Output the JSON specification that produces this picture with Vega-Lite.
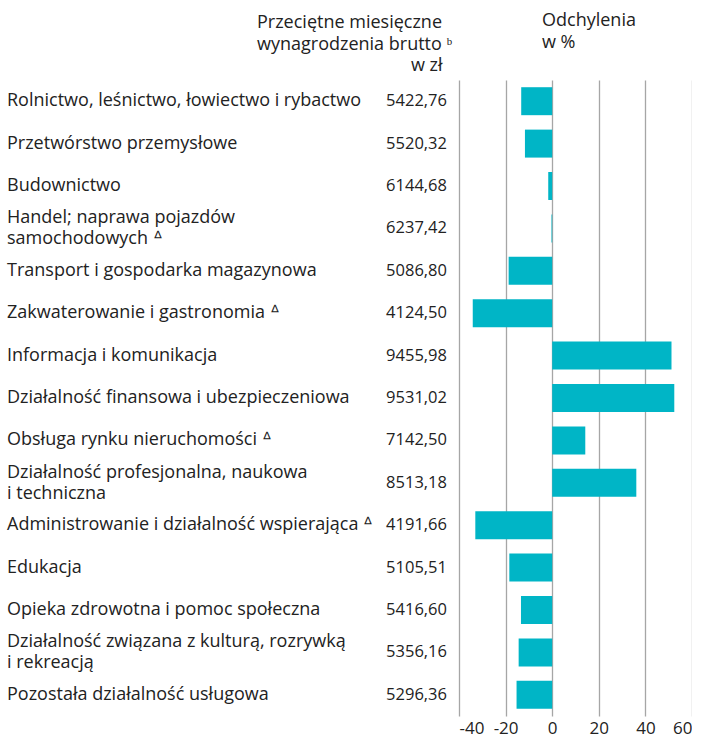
{
  "$schema": "https://vega.github.io/schema/vega-lite/v6.json",
  "padding": {"left": 7, "top": 12, "right": 0, "bottom": 0},
  "bounds": "flush",
  "spacing": 12,
  "config": {
    "font": "Open Sans",
    "view": {"stroke": null},
    "locale": {"number": {"decimal": ",", "thousands": " ", "grouping": [3], "currency": ["", " zł"], "minus": "-"}},
    "title": {"fontSize": 18, "fontWeight": "normal", "color": "#222222", "lineHeight": 22, "font": "Open Sans"}
  },
  "data": {
    "values": [
      {"kategoria": "Rolnictwo, leśnictwo, łowiectwo i rybactwo", "wynagrodzenie": 5422.76, "odchylenie": -13.3},
      {"kategoria": "Przetwórstwo przemysłowe", "wynagrodzenie": 5520.32, "odchylenie": -11.7},
      {"kategoria": "Budownictwo", "wynagrodzenie": 6144.68, "odchylenie": -1.7},
      {"kategoria": "Handel; naprawa pojazdów\nsamochodowych ᐞ", "wynagrodzenie": 6237.42, "odchylenie": -0.3},
      {"kategoria": "Transport i gospodarka magazynowa", "wynagrodzenie": 5086.80, "odchylenie": -18.7},
      {"kategoria": "Zakwaterowanie i gastronomia ᐞ", "wynagrodzenie": 4124.50, "odchylenie": -34.1},
      {"kategoria": "Informacja i komunikacja", "wynagrodzenie": 9455.98, "odchylenie": 51.2},
      {"kategoria": "Działalność finansowa i ubezpieczeniowa", "wynagrodzenie": 9531.02, "odchylenie": 52.4},
      {"kategoria": "Obsługa rynku nieruchomości ᐞ", "wynagrodzenie": 7142.50, "odchylenie": 14.2},
      {"kategoria": "Działalność profesjonalna, naukowa\ni techniczna", "wynagrodzenie": 8513.18, "odchylenie": 36.1},
      {"kategoria": "Administrowanie i działalność wspierająca ᐞ", "wynagrodzenie": 4191.66, "odchylenie": -33.0},
      {"kategoria": "Edukacja", "wynagrodzenie": 5105.51, "odchylenie": -18.4},
      {"kategoria": "Opieka zdrowotna i pomoc społeczna", "wynagrodzenie": 5416.60, "odchylenie": -13.4},
      {"kategoria": "Działalność związana z kulturą, rozrywką\ni rekreacją", "wynagrodzenie": 5356.16, "odchylenie": -14.4},
      {"kategoria": "Pozostała działalność usługowa", "wynagrodzenie": 5296.36, "odchylenie": -15.3}
    ]
  },
  "hconcat": [
    {
      "width": 440,
      "height": 636,
      "title": {"text": ["Przeciętne miesięczne", "wynagrodzenia brutto ᵇ"], "anchor": "start", "dx": 250, "offset": 2},
      "layer": [
        {
          "transform": [{"filter": "indexof(datum.kategoria, '\\n') < 0"}],
          "mark": {"type": "text", "align": "left", "baseline": "middle", "fontSize": 18, "lineBreak": "\n", "lineHeight": 21, "color": "#222222"},
          "encoding": {
            "y": {
              "field": "kategoria", "type": "nominal", "sort": null, "axis": null,
              "scale": {
                "type": "band", "paddingInner": 0.34, "paddingOuter": 0.17,
                "domain": [
                  "Rolnictwo, leśnictwo, łowiectwo i rybactwo",
                  "Przetwórstwo przemysłowe",
                  "Budownictwo",
                  "Handel; naprawa pojazdów\nsamochodowych ᐞ",
                  "Transport i gospodarka magazynowa",
                  "Zakwaterowanie i gastronomia ᐞ",
                  "Informacja i komunikacja",
                  "Działalność finansowa i ubezpieczeniowa",
                  "Obsługa rynku nieruchomości ᐞ",
                  "Działalność profesjonalna, naukowa\ni techniczna",
                  "Administrowanie i działalność wspierająca ᐞ",
                  "Edukacja",
                  "Opieka zdrowotna i pomoc społeczna",
                  "Działalność związana z kulturą, rozrywką\ni rekreacją",
                  "Pozostała działalność usługowa"
                ]
              }
            },
            "x": {
              "datum": 0,
              "type": "quantitative",
              "scale": {"domain": [0, 1], "nice": false, "zero": false},
              "axis": {"orient": "top", "labels": false, "ticks": false, "domain": false, "grid": false, "title": "w zł", "titleFontSize": 18, "titleFontWeight": "normal", "titleColor": "#222222", "titleFont": "Open Sans", "titleAnchor": "end", "titleAlign": "right", "titleX": 435, "titlePadding": 6}
            },
            "text": {"field": "kategoria", "type": "nominal"}
          }
        },
        {
          "transform": [{"filter": "indexof(datum.kategoria, '\\n') >= 0"}],
          "mark": {"type": "text", "align": "left", "baseline": "middle", "fontSize": 18, "lineBreak": "\n", "lineHeight": 21, "dy": -10, "color": "#222222"},
          "encoding": {
            "y": {"field": "kategoria", "type": "nominal", "sort": null, "axis": null},
            "x": {"datum": 0, "type": "quantitative"},
            "text": {"field": "kategoria", "type": "nominal"}
          }
        },
        {
          "mark": {"type": "text", "align": "right", "baseline": "middle", "fontSize": 16.5, "color": "#222222"},
          "encoding": {
            "y": {"field": "kategoria", "type": "nominal", "sort": null, "axis": null},
            "x": {"datum": 1, "type": "quantitative"},
            "text": {"field": "wynagrodzenie", "type": "quantitative", "format": ".2f"}
          }
        }
      ]
    },
    {
      "width": 233,
      "height": 636,
      "title": {"text": ["Odchylenia", "w %"], "anchor": "start", "dx": 83, "offset": 28},
      "mark": {"type": "bar", "color": "#00b5c6"},
      "encoding": {
        "y": {"field": "kategoria", "type": "nominal", "sort": null, "axis": null, "scale": {"type": "band", "paddingInner": 0.34, "paddingOuter": 0.17}},
        "x": {
          "field": "odchylenie",
          "type": "quantitative",
          "scale": {"domain": [-40, 60], "nice": false, "zero": false},
          "axis": {"values": [-40, -20, 0, 20, 40, 60], "format": "d", "grid": true, "gridColor": "#a6a6a6", "gridWidth": 1.3, "domain": false, "ticks": false, "labelFontSize": 17, "labelColor": "#222222", "labelPadding": 4, "title": null, "labelFont": "Open Sans"}
        }
      }
    }
  ]
}
